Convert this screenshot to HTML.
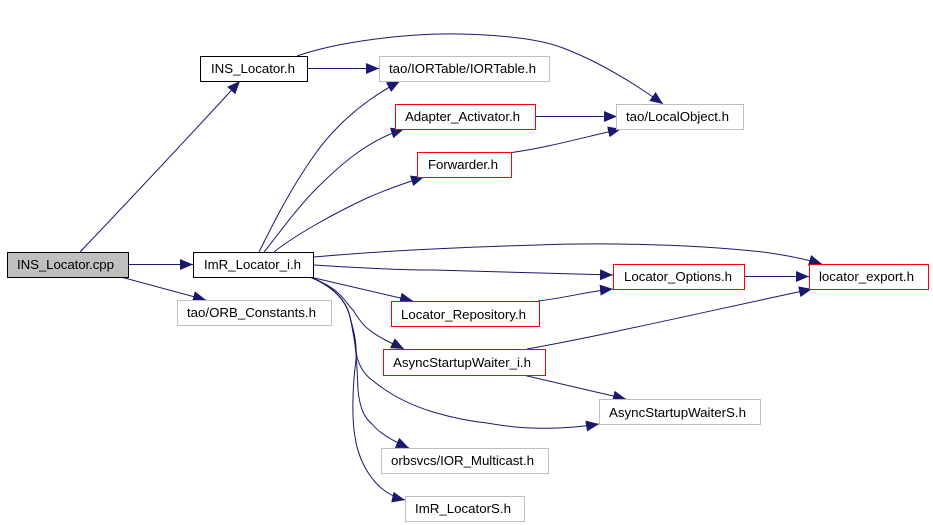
<!DOCTYPE html>
<html lang="en">
<head>
<meta charset="utf-8">
<title>INS_Locator.cpp include graph</title>
<style>
html,body{margin:0;padding:0;background:#fff;width:933px;height:525px;overflow:hidden}
svg{display:block}
text{font-family:"Liberation Sans",sans-serif;font-size:13.3px;fill:#000}
.n{fill:#fff;stroke:#000;stroke-width:1}
.g{fill:#fff;stroke:#bfbfbf;stroke-width:1}
.r{fill:#fff;stroke:#f00;stroke-width:1}
.e{fill:none;stroke:#191970;stroke-width:1;marker-end:url(#a)}
</style>
</head>
<body>
<svg width="933" height="525" viewBox="0 0 933 525" xmlns="http://www.w3.org/2000/svg">
<defs>
<marker id="a" markerUnits="userSpaceOnUse" markerWidth="15" markerHeight="12" refX="13" refY="5.5" orient="auto">
<polygon points="0,0 13,5.5 0,11" fill="#191970"/>
</marker>
</defs>

<!-- edges -->
<path class="e" d="M80,252 C120,210 195,130 240,81"/>
<path class="e" d="M129,264.5 H193"/>
<path class="e" d="M121,277 L206,300"/>
<path class="e" d="M308,68.5 H379"/>
<path class="e" d="M297,56 C340,41 410,33 460,34 C505,35 540,39 563,48 C600,62 635,84 663,104"/>
<path class="e" d="M259,252 C275,220 290,190 313,157 C335,125 365,100 400,81"/>
<path class="e" d="M264,252 C280,232 298,207 317,188 C345,160 370,140 404,129"/>
<path class="e" d="M274,252 C295,235 335,213 367,198 C385,190 405,183 424,177"/>
<path class="e" d="M314,257 C390,250 470,247 537,245 C590,243 680,243 763,252 C785,255 805,259 822,264"/>
<path class="e" d="M314,265 C360,268 400,270 433,270 C500,272 560,274 613,275"/>
<path class="e" d="M310,277 L413,301"/>
<path class="e" d="M310,277 C320,281 330,286 337,292 C344,298 348,305 353,310 C358,318 362,324 367,328 C372,332 376,335 380,337 C388,342 396,345 404,349"/>
<path class="e" d="M310,277 C325,283 345,295 350,317 C354,335 355,345 357,357 C360,368 365,375 372,380 C390,395 410,405 433,412 C450,417 468,421 487,423 C505,426 520,428 533,428 C555,429 580,427 599,424"/>
<path class="e" d="M310,277 C325,283 345,295 350,317 C356,340 357,365 358,390 C360,410 365,418 372,424 C380,434 395,442 409,448"/>
<path class="e" d="M310,277 C325,283 345,295 350,317 C355,335 357,345 356,360 C352,390 352,420 355,437 C358,458 368,476 380,487 C388,494 396,498 405,500"/>
<path class="e" d="M745,276.5 H809"/>
<path class="e" d="M538,301 C565,298 590,291 613,289"/>
<path class="e" d="M527,349 C600,336 700,313 812,289"/>
<path class="e" d="M523,375 L626,399"/>
<path class="e" d="M536,116.5 H617"/>
<path class="e" d="M512,152.5 C550,147 585,137 621,129"/>

<!-- nodes -->
<rect x="7.5" y="252.5" width="121" height="25" fill="#bfbfbf" stroke="#000"/>
<text x="17" y="269" textLength="97" lengthAdjust="spacing">INS_Locator.cpp</text>

<rect class="n" x="200.5" y="56.5" width="107" height="25"/>
<text x="211" y="73" textLength="84" lengthAdjust="spacing">INS_Locator.h</text>

<rect class="n" x="193.5" y="252.5" width="120" height="25"/>
<text x="204" y="269" textLength="97" lengthAdjust="spacing">ImR_Locator_i.h</text>

<rect class="g" x="177.5" y="300.5" width="154" height="25"/>
<text x="187" y="317" textLength="129" lengthAdjust="spacing">tao/ORB_Constants.h</text>

<rect class="g" x="379.5" y="56.5" width="170" height="25"/>
<text x="389" y="73" textLength="147" lengthAdjust="spacing">tao/IORTable/IORTable.h</text>

<rect class="r" x="395.5" y="104.5" width="140" height="25"/>
<text x="405" y="121" textLength="115" lengthAdjust="spacing">Adapter_Activator.h</text>

<rect class="g" x="616.5" y="104.5" width="127" height="25"/>
<text x="626" y="121" textLength="103" lengthAdjust="spacing">tao/LocalObject.h</text>

<rect class="r" x="417.5" y="152.5" width="94" height="25"/>
<text x="428" y="169" textLength="70" lengthAdjust="spacing">Forwarder.h</text>

<rect class="r" x="613.5" y="264.5" width="131" height="25"/>
<text x="624" y="281" textLength="108" lengthAdjust="spacing">Locator_Options.h</text>

<rect class="r" x="809.5" y="264.5" width="119" height="25"/>
<text x="819" y="281" textLength="95" lengthAdjust="spacing">locator_export.h</text>

<rect class="r" x="391.5" y="301.5" width="148" height="25"/>
<text x="401" y="319" textLength="125" lengthAdjust="spacing">Locator_Repository.h</text>

<rect class="r" x="383.5" y="349.5" width="162" height="26"/>
<text x="393" y="367" textLength="138" lengthAdjust="spacing">AsyncStartupWaiter_i.h</text>

<rect class="g" x="599.5" y="399.5" width="161" height="25"/>
<text x="609" y="417" textLength="137" lengthAdjust="spacing">AsyncStartupWaiterS.h</text>

<rect class="g" x="381.5" y="448.5" width="167" height="25"/>
<text x="391" y="465" textLength="143" lengthAdjust="spacing">orbsvcs/IOR_Multicast.h</text>

<rect class="g" x="405.5" y="496.5" width="119" height="25"/>
<text x="415" y="513" textLength="96" lengthAdjust="spacing">ImR_LocatorS.h</text>
</svg>
</body>
</html>
